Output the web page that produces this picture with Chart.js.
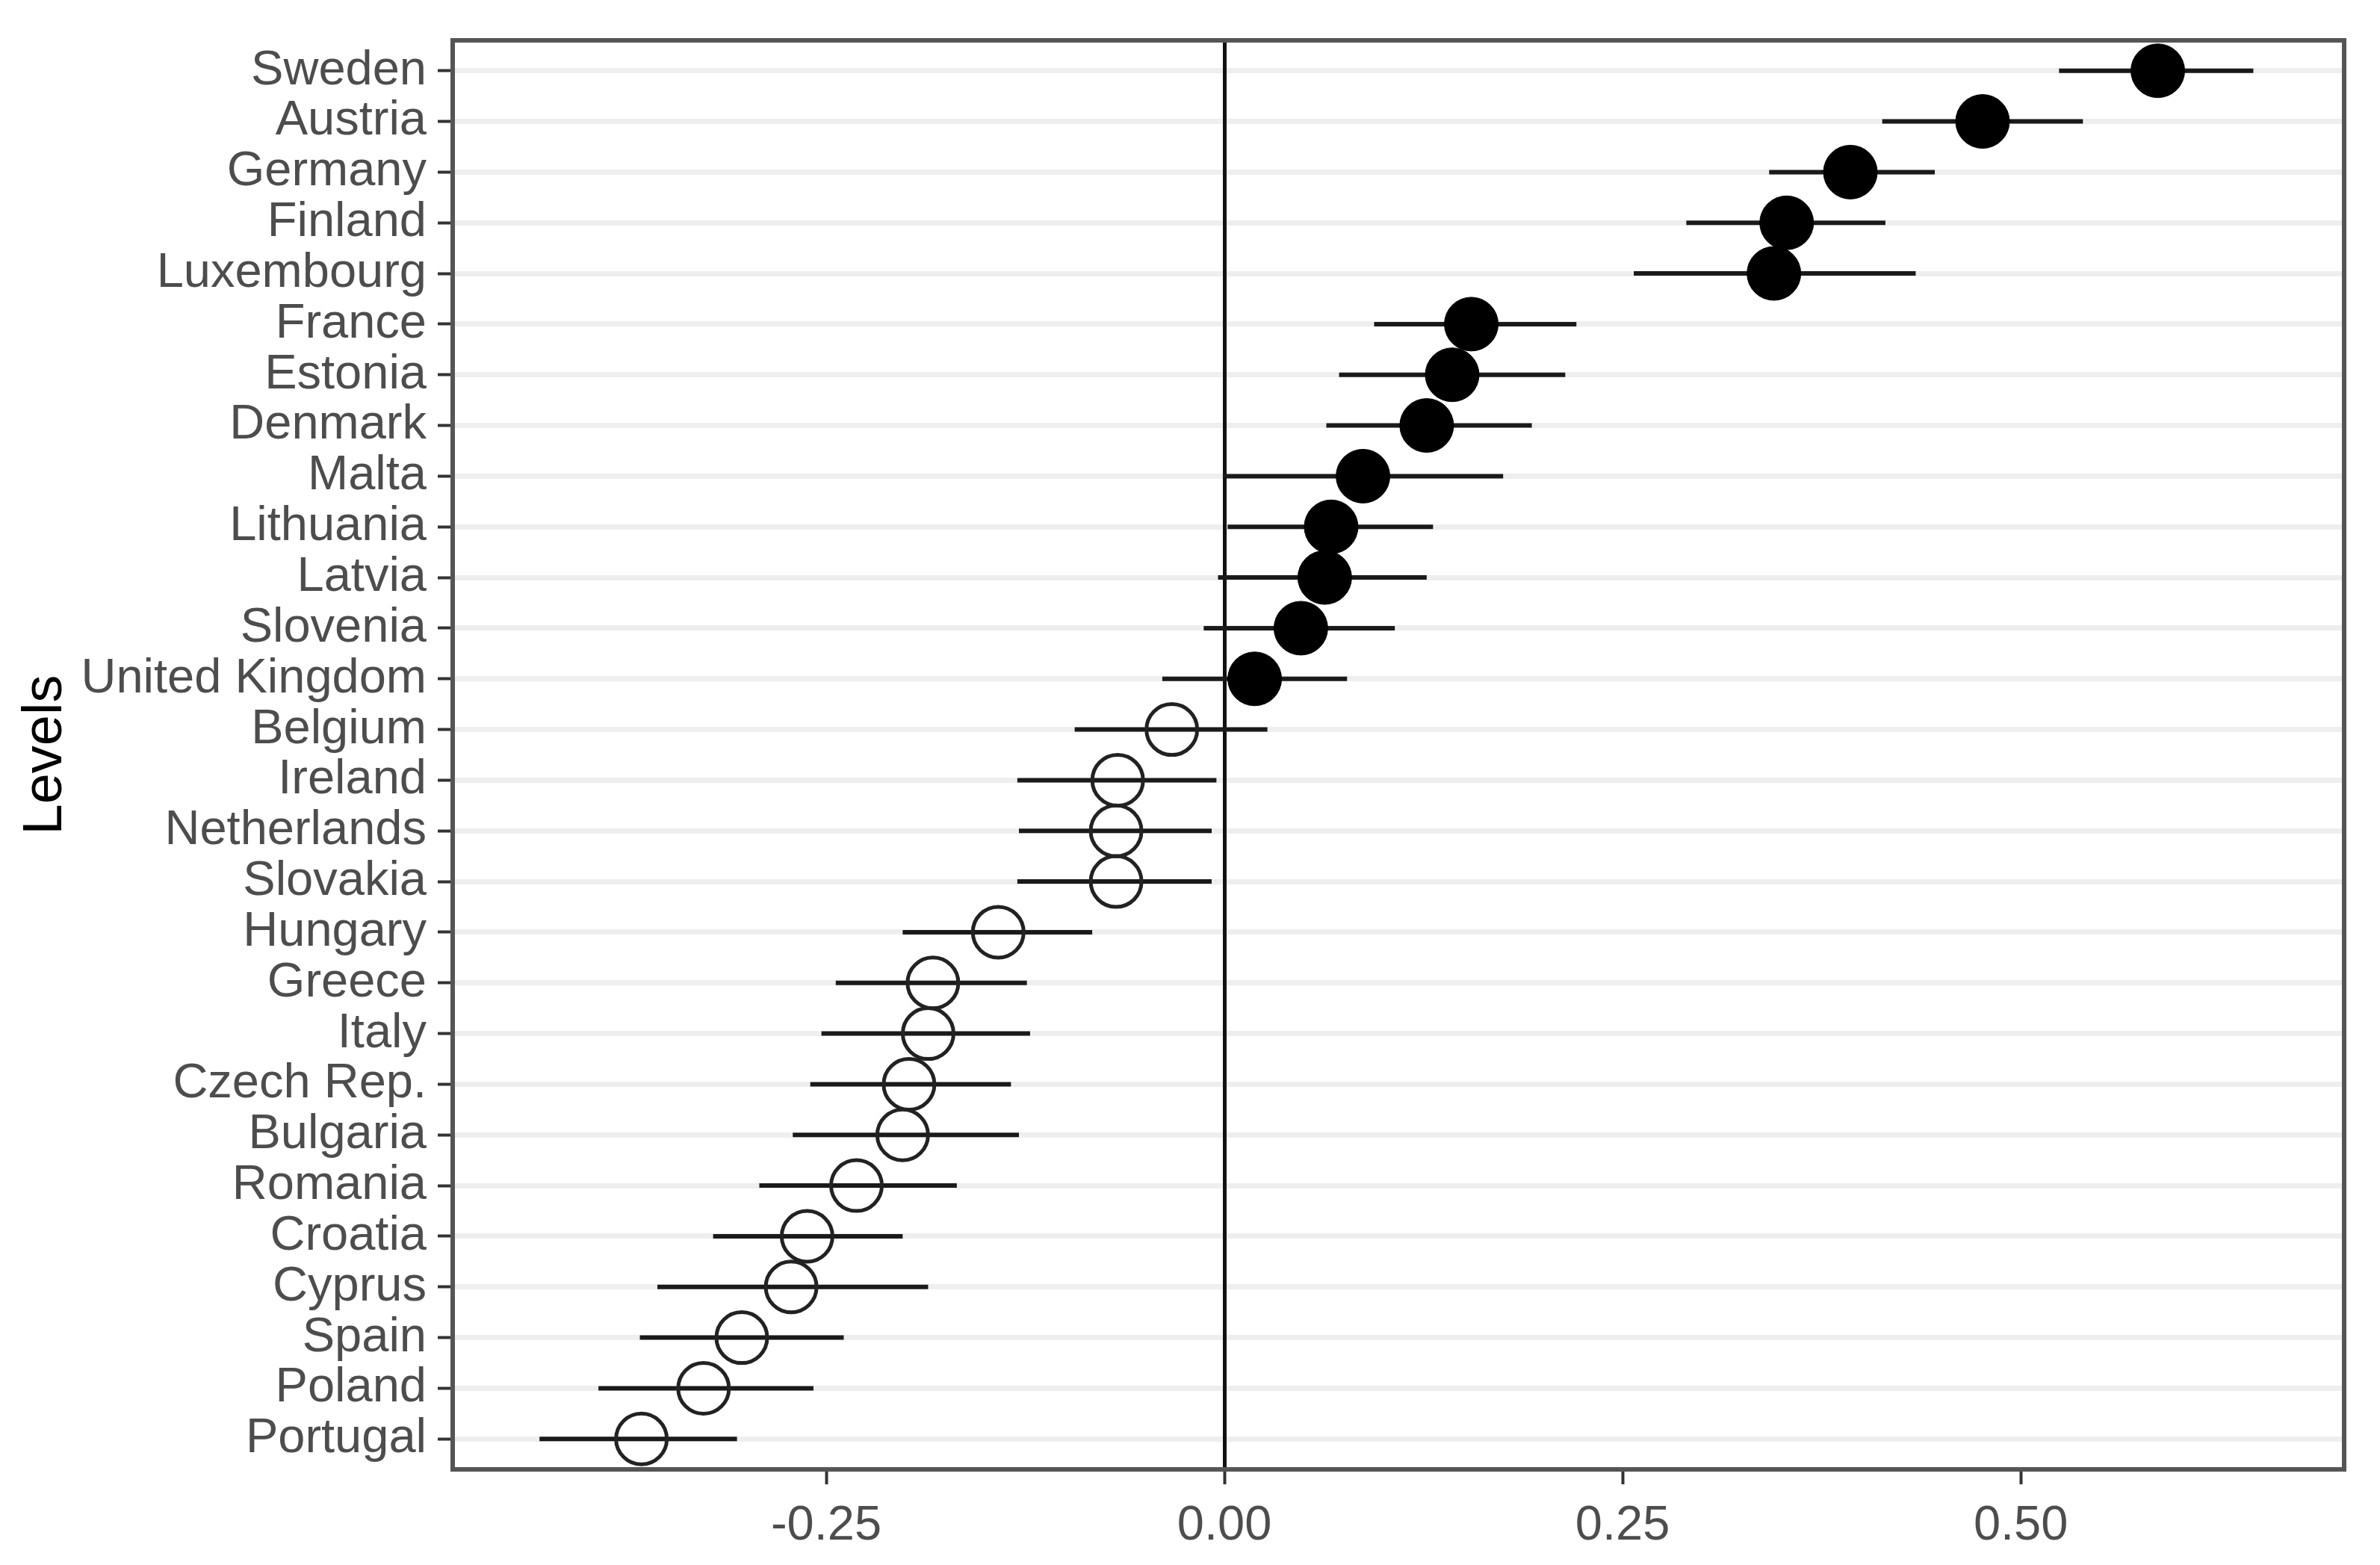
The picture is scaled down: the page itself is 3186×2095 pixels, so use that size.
<!DOCTYPE html>
<html>
<head>
<meta charset="utf-8">
<script src="https://cdn.jsdelivr.net/npm/chart.js@4.4.0/dist/chart.umd.min.js"></script>
<style>
  html, body { margin: 0; padding: 0; background: #fff; }
</style>
</head>
<body>
<canvas id="chart" width="3186" height="2095"></canvas>
<script>
// country levels, top to bottom
const countries = ['Sweden', 'Austria', 'Germany', 'Finland', 'Luxembourg', 'France', 'Estonia',
  'Denmark', 'Malta', 'Lithuania', 'Latvia', 'Slovenia', 'United Kingdom', 'Belgium', 'Ireland',
  'Netherlands', 'Slovakia', 'Hungary', 'Greece', 'Italy', 'Czech Rep.', 'Bulgaria', 'Romania',
  'Croatia', 'Cyprus', 'Spain', 'Poland', 'Portugal'];
const estimates = [0.586, 0.476, 0.393, 0.353, 0.345, 0.155, 0.143, 0.127, 0.087, 0.067, 0.063,
  0.048, 0.019, -0.033, -0.067, -0.068, -0.068, -0.142, -0.183, -0.186, -0.198, -0.202, -0.231,
  -0.262, -0.272, -0.303, -0.327, -0.366];
const lower = [0.524, 0.413, 0.342, 0.290, 0.257, 0.094, 0.072, 0.064, -0.001, 0.002, -0.004,
  -0.013, -0.039, -0.094, -0.130, -0.129, -0.130, -0.202, -0.244, -0.253, -0.260, -0.271, -0.292,
  -0.321, -0.356, -0.367, -0.393, -0.430];
const upper = [0.646, 0.539, 0.446, 0.415, 0.434, 0.221, 0.214, 0.193, 0.175, 0.131, 0.127,
  0.107, 0.077, 0.027, -0.005, -0.008, -0.008, -0.083, -0.124, -0.122, -0.134, -0.129, -0.168,
  -0.202, -0.186, -0.239, -0.258, -0.306];
const xTicks = [-0.25, 0, 0.25, 0.5];

const font = { family: 'Liberation Sans', size: 65 };

const filledPts = [], openPts = [];
estimates.forEach((v, i) => (v > 0 ? filledPts : openPts).push({ x: v, y: i }));

const errorBars = countries.map((c, i) => ({
  label: c,
  data: [{ x: lower[i], y: i }, { x: upper[i], y: i }],
  showLine: true,
  borderColor: '#1a1a1a',
  borderWidth: 6,
  pointRadius: 0,
  order: 1
}));

// ggplot style box round the panel
const panelBorder = {
  id: 'panelBorder',
  afterDatasetsDraw(chart) {
    const { ctx, chartArea: a } = chart;
    ctx.save();
    ctx.strokeStyle = '#555';
    ctx.lineWidth = 6;
    ctx.strokeRect(a.left, a.top, a.right - a.left, a.bottom - a.top);
    ctx.restore();
  }
};

new Chart(document.getElementById('chart').getContext('2d'), {
  type: 'scatter',
  data: {
    datasets: [
      { label: 'positive', data: filledPts, pointRadius: 36, backgroundColor: '#000', borderColor: '#000', borderWidth: 1, order: 0 },
      { label: 'negative', data: openPts, pointRadius: 34, backgroundColor: 'rgba(0,0,0,0)', borderColor: '#222', borderWidth: 5, order: 0 },
      ...errorBars
    ]
  },
  options: {
    responsive: false,
    animation: false,
    events: [],
    layout: { padding: { top: 42, right: 48, left: 0, bottom: 0 } },
    plugins: {
      legend: { display: false },
      tooltip: { enabled: false }
    },
    scales: {
      x: {
        type: 'linear',
        min: -0.4845,
        max: 0.703,
        afterBuildTicks: axis => { axis.ticks = xTicks.map(v => ({ value: v })); },
        afterFit: axis => { axis.height = 128; },
        ticks: { color: '#4d4d4d', font: font, padding: 17, callback: v => v.toFixed(2) },
        grid: {
          color: ctx => (ctx.tick && ctx.tick.value === 0 ? '#111' : 'rgba(0,0,0,0)'),
          lineWidth: 5,
          tickColor: '#333',
          tickLength: 20,
          tickWidth: 4,
          z: -1
        },
        border: { display: false }
      },
      y: {
        type: 'linear',
        reverse: true,
        min: -0.6,
        max: countries.length - 0.4,
        afterBuildTicks: axis => { axis.ticks = countries.map((c, i) => ({ value: i })); },
        afterFit: axis => { axis.width = 606; },
        ticks: { autoSkip: false, color: '#4d4d4d', font: font, padding: 15, callback: v => countries[v] },
        grid: { color: '#eeeeee', lineWidth: 7, tickColor: '#333', tickLength: 20, tickWidth: 4, z: -2 },
        border: { display: false },
        title: {
          display: true,
          text: 'Levels',
          color: '#000',
          font: { family: 'Liberation Sans', size: 74 },
          padding: { top: 17, bottom: 0 }
        }
      }
    }
  },
  plugins: [panelBorder]
});
</script>
</body>
</html>
